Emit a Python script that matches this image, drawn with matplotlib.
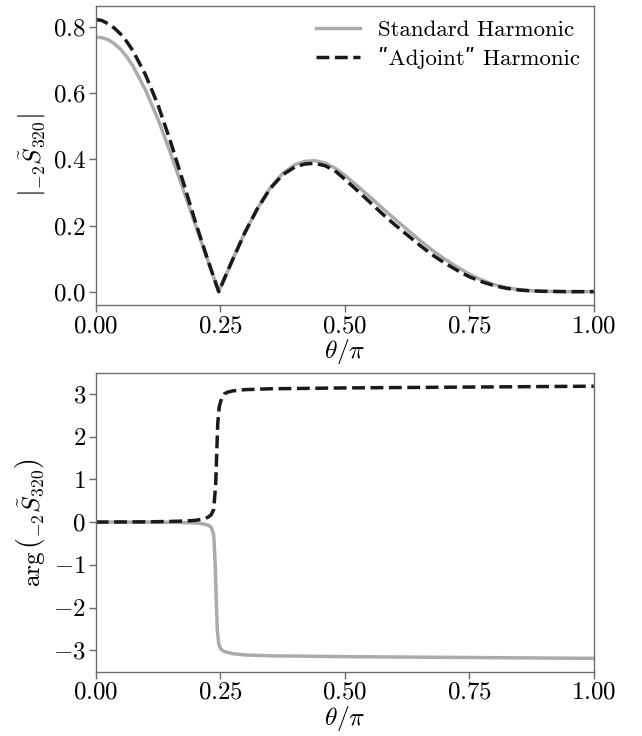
import numpy as np
import matplotlib
matplotlib.use('Agg')
import matplotlib.pyplot as plt
from matplotlib.font_manager import FontProperties

# theta / pi sample points for the magnitude panel
theta_abs = [0.0, 0.0125, 0.025, 0.0375, 0.05, 0.0625, 0.075, 0.1, 0.125, 0.15,
             0.175, 0.2, 0.225, 0.247, 0.26, 0.275, 0.3, 0.325, 0.35, 0.375,
             0.4, 0.42, 0.44, 0.46, 0.48, 0.5, 0.525, 0.55, 0.575, 0.6,
             0.625, 0.65, 0.675, 0.7, 0.725, 0.75, 0.775, 0.8, 0.825, 0.85,
             0.875, 0.9, 0.95, 1.0]
abs_standard = [0.770, 0.768, 0.762, 0.750, 0.733, 0.710, 0.682, 0.610, 0.522, 0.420,
                0.312, 0.203, 0.095, 0.0, 0.045, 0.097, 0.180, 0.252, 0.313, 0.357,
                0.384, 0.394, 0.396, 0.389, 0.374, 0.352, 0.320, 0.287, 0.253, 0.220,
                0.188, 0.156, 0.126, 0.099, 0.075, 0.053, 0.035, 0.021, 0.012, 0.006,
                0.003, 0.001, 0.0, 0.0]
abs_adjoint = [0.823, 0.820, 0.810, 0.797, 0.779, 0.756, 0.728, 0.656, 0.565, 0.455,
               0.335, 0.212, 0.096, 0.0, 0.045, 0.097, 0.180, 0.252, 0.311, 0.353,
               0.377, 0.386, 0.388, 0.381, 0.366, 0.340, 0.306, 0.271, 0.236, 0.203,
               0.172, 0.141, 0.112, 0.087, 0.065, 0.045, 0.030, 0.018, 0.010, 0.005,
               0.002, 0.001, 0.0, 0.0]

# theta / pi sample points for the phase panel
theta_std_arg = [0.0, 0.1, 0.15, 0.2, 0.215, 0.225, 0.232, 0.237, 0.24, 0.242,
                 0.244, 0.247, 0.251, 0.258, 0.265, 0.275, 0.3, 0.35, 0.5, 0.75, 1.0]
arg_standard = [0.0, 0.0, -0.005, -0.02, -0.04, -0.07, -0.12, -0.3, -1.0, -1.8,
                -2.5, -2.85, -2.97, -3.03, -3.05, -3.08, -3.11, -3.13, -3.15, -3.17, -3.19]
theta_adj_arg = [0.0, 0.1, 0.15, 0.18, 0.2, 0.215, 0.225, 0.232, 0.237, 0.241,
                 0.243, 0.245, 0.248, 0.253, 0.258, 0.265, 0.275, 0.3, 0.35, 0.5, 0.75, 1.0]
arg_adjoint = [0.0, 0.005, 0.015, 0.025, 0.04, 0.07, 0.11, 0.17, 0.3, 0.9,
               1.6, 2.3, 2.7, 2.9, 3.0, 3.04, 3.07, 3.1, 3.12, 3.14, 3.16, 3.18]

plt.rcParams['font.family'] = 'serif'
plt.rcParams['font.serif'] = ['cmr10', 'DejaVu Serif']
plt.rcParams['mathtext.fontset'] = 'cm'
plt.rcParams['axes.formatter.use_mathtext'] = True
plt.rcParams['axes.unicode_minus'] = True

GRAY = '#ababab'
BLACK = '#1a1a1a'
SPINE = '#6b6b6b'

fig, (ax1, ax2) = plt.subplots(2, 1, figsize=(6.42, 7.36), dpi=100)
fig.subplots_adjust(left=0.149, right=0.925, top=0.992, bottom=0.087, hspace=0.225)

# cmr10 draws " as a curly quote, so use a straight double-prime from the fallback font
adj_label = '\u02baAdjoint\u02ba Harmonic'
ax1.plot(theta_abs, abs_standard, color=GRAY, lw=2.5, label='Standard Harmonic')
ax1.plot(theta_abs, abs_adjoint, color=BLACK, lw=2.5, ls='--', label=adj_label)
ax1.set_xlim(0, 1)
ax1.set_xticks([0, 0.25, 0.5, 0.75, 1.0])
ax1.set_yticks([0.0, 0.2, 0.4, 0.6, 0.8])
ax1.set_xlabel(r'$\theta/\pi$', fontsize=18.5, labelpad=0)
ax1.set_ylabel(r'$\left|{}_{-2}\tilde{S}_{320}\right|$', fontsize=18)
ax1.legend(loc='upper right', frameon=False, handlelength=1.9, labelspacing=0.3,
           borderaxespad=0.2,
           prop=FontProperties(family=['cmr10', 'DejaVu Serif'], size=16.5))

ax2.plot(theta_std_arg, arg_standard, color=GRAY, lw=2.5)
ax2.plot(theta_adj_arg, arg_adjoint, color=BLACK, lw=2.5, ls='--')
ax2.set_xlim(0, 1)
ax2.set_xticks([0, 0.25, 0.5, 0.75, 1.0])
ax2.set_yticks([-3, -2, -1, 0, 1, 2, 3])
ax2.set_xlabel(r'$\theta/\pi$', fontsize=18.5, labelpad=0)
ax2.set_ylabel(r'$\arg\left({}_{-2}\tilde{S}_{320}\right)$', fontsize=18)

for ax in (ax1, ax2):
    ax.xaxis.set_major_formatter(matplotlib.ticker.FormatStrFormatter(r'$%.2f$'))
    ax.tick_params(labelsize=18, direction='out', length=5, width=1, color=SPINE, pad=2)
    for sp in ax.spines.values():
        sp.set_color(SPINE)
        sp.set_linewidth(1.0)
ax1.yaxis.set_major_formatter(matplotlib.ticker.FormatStrFormatter(r'$%.1f$'))

fig.savefig('out.png', dpi=100)
